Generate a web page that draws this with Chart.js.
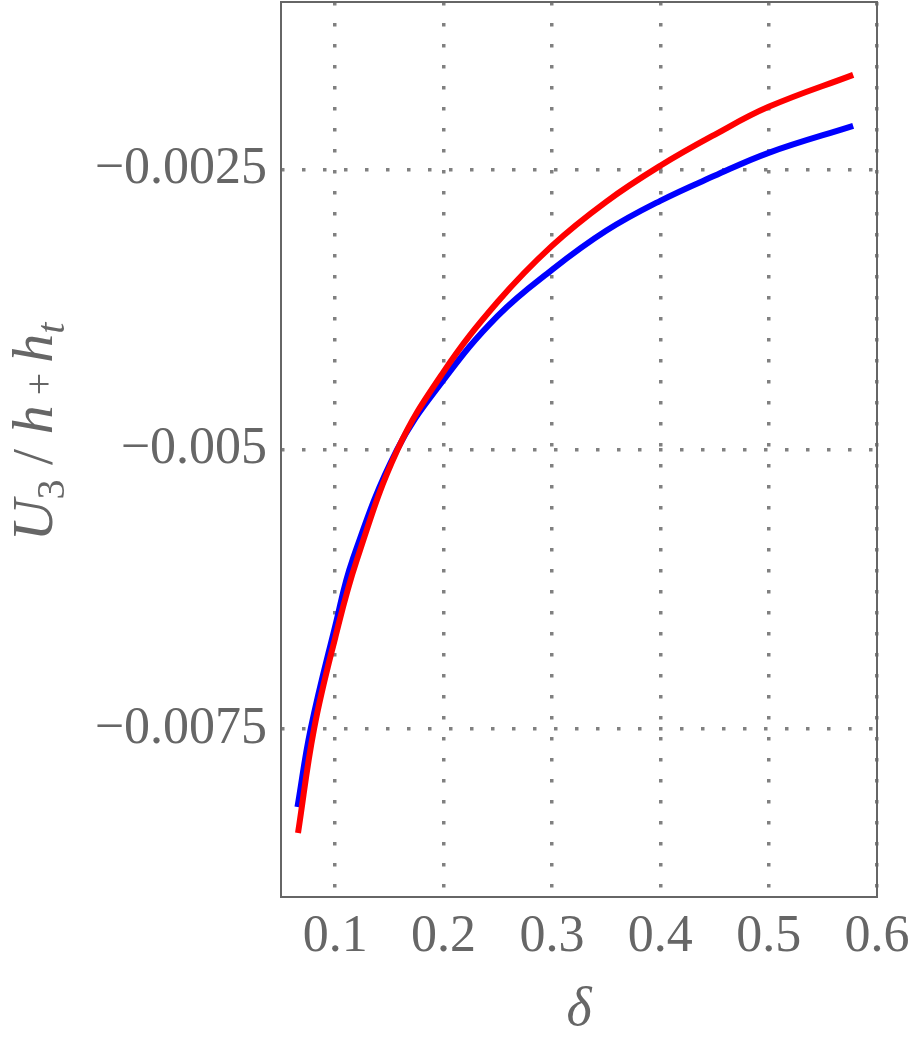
<!DOCTYPE html>
<html>
<head>
<meta charset="utf-8">
<script src="https://cdn.jsdelivr.net/npm/chart.js@4.4.0/dist/chart.umd.min.js"></script>
<style>
    html, body { margin: 0; padding: 0; background: #fff; }
</style>
</head>
<body>
<canvas id="plot" width="912" height="1043"></canvas>
<script>
// values
const deltaRed = [0.0657, 0.0805, 0.1, 0.12, 0.1575, 0.2, 0.25, 0.3, 0.35, 0.4, 0.45, 0.5, 0.578];
const u3Red = [-0.008428, -0.007498, -0.006684, -0.005987, -0.005003, -0.004306, -0.003680, -0.003180, -0.002786, -0.002464, -0.002187, -0.001937, -0.001651];

const deltaBlue = [0.0652, 0.0774, 0.1, 0.116, 0.157, 0.2, 0.25, 0.3, 0.35, 0.4, 0.45, 0.5, 0.578];
const u3Blue = [-0.008195, -0.007498, -0.006580, -0.005987, -0.005003, -0.004378, -0.003805, -0.003394, -0.003045, -0.002777, -0.002554, -0.002348, -0.002107];

const xTicks = [0.1, 0.2, 0.3, 0.4, 0.5, 0.6];
const yTicks = [-0.0025, -0.005, -0.0075];

const serif = "'Liberation Serif', 'Times New Roman', serif";
const grey = '#666666';

// y axis title pieces (text, style, size, baseline shift)
const yTitleParts = [
    { text: 'U', style: 'italic', size: 58, shift: 0 },
    { text: '3', style: 'normal', size: 40, shift: 12 },
    { text: ' / ', style: 'normal', size: 58, shift: 0 },
    { text: 'h', style: 'italic', size: 58, shift: 0 },
    { text: ' + ', style: 'normal', size: 40, shift: 0 },
    { text: 'h', style: 'italic', size: 58, shift: 0 },
    { text: 't', style: 'italic', size: 40, shift: 12 }
];

const toPoints = (xs, ys) => xs.map((x, i) => ({ x: x, y: ys[i] }));

// frame round the plot area
const framePlugin = {
    id: 'frame',
    afterDraw(chart) {
        const { ctx, chartArea: a } = chart;
        ctx.save();
        ctx.strokeStyle = grey;
        ctx.lineWidth = 2;
        ctx.strokeRect(a.left, a.top, a.right - a.left, a.bottom - a.top);
        ctx.restore();
    }
};

const yTitlePlugin = {
    id: 'yTitle',
    afterDraw(chart) {
        const { ctx } = chart;
        ctx.save();
        ctx.fillStyle = grey;
        ctx.textBaseline = 'alphabetic';
        let total = 0;
        yTitleParts.forEach(p => {
            ctx.font = p.style + ' ' + p.size + 'px ' + serif;
            p.w = ctx.measureText(p.text).width;
            total += p.w;
        });
        ctx.translate(52, 432);
        ctx.rotate(-Math.PI / 2);
        let x = -total / 2;
        yTitleParts.forEach(p => {
            ctx.font = p.style + ' ' + p.size + 'px ' + serif;
            ctx.fillText(p.text, x, p.shift);
            x += p.w;
        });
        ctx.restore();
    }
};

const ctx = document.getElementById('plot').getContext('2d');

new Chart(ctx, {
    type: 'line',
    data: {
        datasets: [{
            label: 'red',
            data: toPoints(deltaRed, u3Red),
            borderColor: '#ff0000',
            borderWidth: 6,
            pointRadius: 0,
            tension: 0.4,
            fill: false
        }, {
            label: 'blue',
            data: toPoints(deltaBlue, u3Blue),
            borderColor: '#0000ff',
            borderWidth: 6,
            pointRadius: 0,
            tension: 0.4,
            fill: false
        }]
    },
    options: {
        responsive: false,
        animation: false,
        layout: {
            padding: { top: 2, right: 35, left: 0, bottom: 0 }
        },
        plugins: {
            legend: { display: false },
            tooltip: { enabled: false }
        },
        scales: {
            x: {
                type: 'linear',
                min: 0.05,
                max: 0.6,
                afterBuildTicks: s => { s.ticks = xTicks.map(v => ({ value: v })); },
                afterFit: s => { s.height = 146; s.paddingLeft = 0; s.paddingRight = 0; },
                grid: {
                    color: '#808080',
                    lineWidth: 3.5,
                    drawTicks: false
                },
                border: { display: false, dash: [3.5, 17.5] },
                ticks: {
                    padding: 9,
                    maxRotation: 0,
                    color: grey,
                    font: { family: serif, size: 52 },
                    callback: v => v.toFixed(1)
                },
                title: {
                    display: true,
                    text: 'δ',
                    color: grey,
                    padding: 0,
                    font: { family: serif, size: 54, style: 'italic' }
                }
            },
            y: {
                type: 'linear',
                min: -0.009,
                max: -0.001,
                afterBuildTicks: s => { s.ticks = yTicks.map(v => ({ value: v })); },
                afterFit: s => { s.width = 281; s.paddingTop = 0; s.paddingBottom = 0; },
                grid: {
                    color: '#808080',
                    lineWidth: 3.5,
                    drawTicks: false
                },
                border: { display: false, dash: [3.5, 17.5] },
                ticks: {
                    padding: 14,
                    color: grey,
                    font: { family: serif, size: 52 },
                    callback: v => '\u2212' + String(Math.abs(v))
                }
            }
        }
    },
    plugins: [framePlugin, yTitlePlugin]
});
</script>
</body>
</html>
